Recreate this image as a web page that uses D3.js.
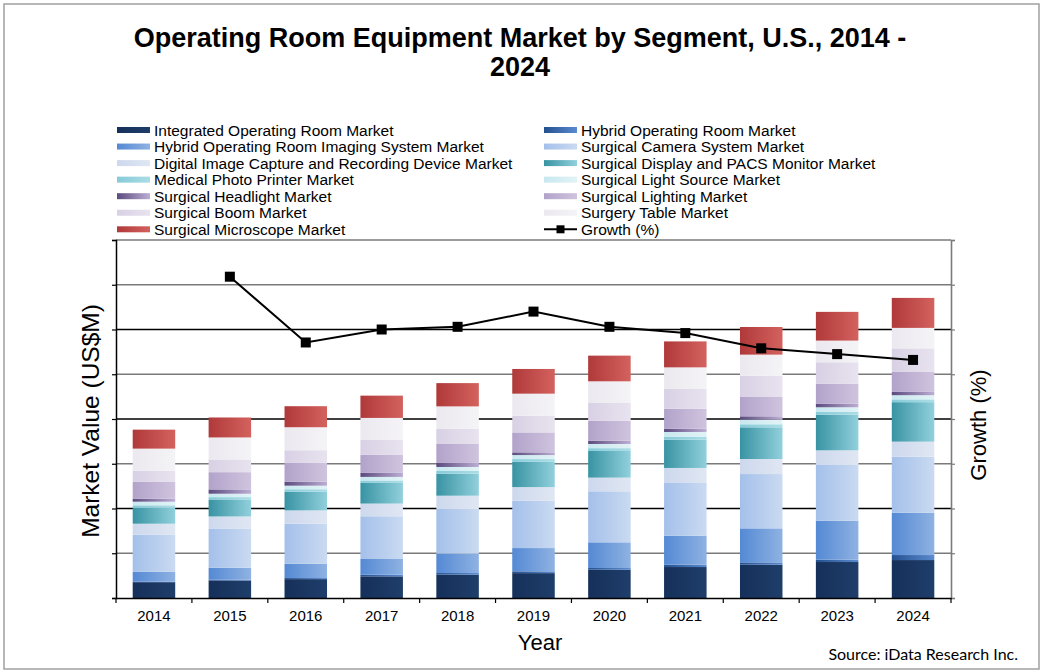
<!DOCTYPE html>
<html>
<head>
<meta charset="utf-8">
<script src="https://cdn.jsdelivr.net/npm/d3@7"></script>
<style>
  html, body { margin: 0; padding: 0; background: #fff; }
  svg { display: block; }
  text { font-family: "Liberation Sans", Arial, sans-serif; fill: #000; }
</style>
</head>
<body>
<svg id="chart" width="1043" height="672"></svg>
<script>
// ---------- DATA ----------
const years = ["2014","2015","2016","2017","2018","2019","2020","2021","2022","2023","2024"];

const seriesNames = [
  "Integrated Operating Room Market",
  "Hybrid Operating Room Market",
  "Hybrid Operating Room Imaging System Market",
  "Surgical Camera System Market",
  "Digital Image Capture and Recording Device Market",
  "Surgical Display and PACS Monitor Market",
  "Medical Photo Printer Market",
  "Surgical Light Source Market",
  "Surgical Headlight Market",
  "Surgical Lighting Market",
  "Surgical Boom Market",
  "Surgery Table Market",
  "Surgical Microscope Market"
];

// US$M (estimated)
const integratedOR   = [177, 196, 211, 242, 261, 278, 316, 346, 372, 402, 424];
const hybridOR       = [5, 8, 12, 19, 18, 20, 19, 26, 26, 26, 56];
const hybridImaging  = [112, 134, 160, 175, 216, 260, 287, 324, 380, 436, 473];
const cameraSystem   = [413, 439, 447, 477, 499, 528, 570, 589, 607, 622, 626];
const digitalCapture = [123, 134, 149, 142, 149, 153, 153, 168, 168, 164, 168];
const displayPACS    = [179, 190, 209, 231, 246, 283, 298, 316, 354, 399, 441];
const photoPrinter   = [27, 26, 27, 27, 30, 30, 31, 34, 34, 33, 31];
const lightSource    = [40, 38, 40, 40, 45, 45, 47, 52, 52, 49, 47];
const headlight      = [34, 48, 45, 45, 45, 30, 37, 37, 37, 41, 37];
const lighting       = [187, 193, 209, 204, 212, 223, 223, 223, 216, 220, 223];
const boom           = [126, 142, 142, 168, 171, 187, 198, 220, 238, 242, 263];
const table          = [246, 246, 257, 242, 249, 246, 242, 242, 235, 242, 229];
const microscope     = [212, 223, 235, 249, 260, 276, 287, 290, 309, 321, 335];

const growthYears = ["2015","2016","2017","2018","2019","2020","2021","2022","2023","2024"];
const growth      = [7.18, 5.71, 6.00, 6.06, 6.40, 6.06, 5.92, 5.58, 5.45, 5.32];

const seriesValues = [integratedOR, hybridOR, hybridImaging, cameraSystem, digitalCapture,
  displayPACS, photoPrinter, lightSource, headlight, lighting, boom, table, microscope];

// gradient colour pairs (left -> right)
const seriesColors = [
  ["#15305a", "#1f3e6a"],
  ["#24508e", "#5a8ad0"],
  ["#5489d4", "#8fb2e2"],
  ["#a4c0ea", "#cadaf1"],
  ["#cdd8ed", "#e0e7f3"],
  ["#3893a3", "#92d0dc"],
  ["#86cbd8", "#aadde6"],
  ["#c8e8ef", "#e2f3f6"],
  ["#5b4a7e", "#bcaed4"],
  ["#b2a2ca", "#cfc4de"],
  ["#d8d0e4", "#e8e3ef"],
  ["#ebe9ef", "#f4f3f6"],
  ["#b0393a", "#d3625e"]
];

// ---------- LAYOUT ----------
const svg = d3.select("#chart");
const X0 = 116, X1 = 951, Y0 = 240, Y1 = 598;

// outer border
svg.append("rect").attr("x", 4).attr("y", 4).attr("width", 1035).attr("height", 665)
  .attr("fill", "none").attr("stroke", "#a0a0a0").attr("stroke-width", 1.5);

// title
svg.append("text").attr("x", 520).attr("y", 47).attr("text-anchor", "middle")
  .style("font-size", "27px").style("font-weight", "bold")
  .text("Operating Room Equipment Market by Segment, U.S., 2014 -");
svg.append("text").attr("x", 520).attr("y", 76).attr("text-anchor", "middle")
  .style("font-size", "27px").style("font-weight", "bold")
  .text("2024");

// gradients
const defs = svg.append("defs");
seriesColors.forEach((c, i) => {
  const g = defs.append("linearGradient").attr("id", "g" + i)
    .attr("x1", "0").attr("x2", "1").attr("y1", "0").attr("y2", "0");
  g.append("stop").attr("offset", "0%").attr("stop-color", c[0]);
  g.append("stop").attr("offset", "100%").attr("stop-color", c[1]);
});

// scales
const x = d3.scaleBand().domain(years).range([X0, X1]).paddingInner(0.44).paddingOuter(0.22);
const y = d3.scaleLinear().domain([0, 4000]).range([Y1, Y0]);
const yR = d3.scaleLinear().domain([0, 8]).range([Y1, Y0]);

// gridlines
const gridTicks = d3.range(500, 4000, 500);
svg.append("g").selectAll("line").data(gridTicks).join("line")
  .attr("x1", X0).attr("x2", X1)
  .attr("y1", d => y(d)).attr("y2", d => y(d))
  .attr("stroke", (d, i) => i % 2 === 0 ? "#7a7a7a" : "#000")
  .attr("stroke-width", 1.3);
// top border
svg.append("line").attr("x1", X0).attr("x2", X1).attr("y1", y(4000)).attr("y2", y(4000))
  .attr("stroke", "#7a7a7a").attr("stroke-width", 1.5);

// stacked data
const table2 = years.map((yr, i) => {
  const o = { year: yr };
  seriesNames.forEach((n, k) => o[n] = seriesValues[k][i]);
  return o;
});
const stacked = d3.stack().keys(seriesNames)(table2);

svg.append("g").selectAll("g").data(stacked).join("g")
  .attr("fill", (d, i) => `url(#g${i})`)
  .selectAll("rect").data(d => d).join("rect")
  .attr("x", d => x(d.data.year))
  .attr("width", x.bandwidth())
  .attr("y", d => y(d[1]))
  .attr("height", d => y(d[0]) - y(d[1]));

// left axis
const leftAxis = d3.axisLeft(y).tickValues(d3.range(0, 4001, 500)).tickSize(4).tickFormat("");
const la = svg.append("g").attr("transform", `translate(${X0},0)`).call(leftAxis);
la.select(".domain").attr("stroke", "#000").attr("stroke-width", 1.5);
la.selectAll(".tick line").attr("stroke", "#000").attr("stroke-width", 1.2);

// right axis
const rightAxis = d3.axisRight(yR).tickValues(d3.range(0, 8.01, 1)).tickSize(4).tickFormat("");
const ra = svg.append("g").attr("transform", `translate(${X1},0)`).call(rightAxis);
ra.select(".domain").attr("stroke", "#7a7a7a").attr("stroke-width", 1.6);
ra.selectAll(".tick line").attr("stroke", "#7a7a7a").attr("stroke-width", 1.2);

// bottom axis
const bottomAxis = d3.axisBottom(x).tickSize(0).tickPadding(12);
const ba = svg.append("g").attr("transform", `translate(0,${Y1})`).call(bottomAxis);
ba.select(".domain").attr("stroke", "#000").attr("stroke-width", 1.5);
ba.selectAll("text").style("font-size", "15px").style("font-family", "Liberation Sans, Arial, sans-serif").attr("fill", "#000");
// boundary ticks
const boundaries = d3.range(0, years.length + 1).map(i => X0 + i * x.step());
svg.append("g").selectAll("line").data(boundaries).join("line")
  .attr("x1", d => d).attr("x2", d => d).attr("y1", Y1).attr("y2", Y1 + 5)
  .attr("stroke", "#000").attr("stroke-width", 1.2);

// growth line
const cx = d => x(d) + x.bandwidth() / 2;
const lineGen = d3.line().x((d, i) => cx(growthYears[i])).y(d => yR(d));
svg.append("path").datum(growth).attr("d", lineGen)
  .attr("fill", "none").attr("stroke", "#000").attr("stroke-width", 2);
svg.append("g").selectAll("rect").data(growth).join("rect")
  .attr("x", (d, i) => cx(growthYears[i]) - 5)
  .attr("y", d => yR(d) - 5)
  .attr("width", 10).attr("height", 10).attr("fill", "#000");

// axis titles
svg.append("text").attr("transform", `translate(99,${(Y0 + Y1) / 2 + 2}) rotate(-90)`)
  .attr("text-anchor", "middle").style("font-size", "24.5px").text("Market Value (US$M)");
svg.append("text").attr("transform", `translate(986,${(Y0 + Y1) / 2 + 6}) rotate(-90)`)
  .attr("text-anchor", "middle").style("font-size", "22px").text("Growth (%)");
svg.append("text").attr("x", 540).attr("y", 650).attr("text-anchor", "middle")
  .style("font-size", "22px").text("Year");

// source
svg.append("text").attr("x", 1018).attr("y", 660).attr("text-anchor", "end")
  .style("font-size", "16px").style("font-family", "Lato, 'Open Sans', sans-serif").text("Source: iData Research Inc.");

// legend
const legendItems = seriesNames.map((n, i) => ({ name: n, idx: i })).concat([{ name: "Growth (%)", idx: -1 }]);
const leg = svg.append("g");
const rowH = 16.55, legY0 = 130;
legendItems.forEach((it, k) => {
  const col = k % 2, row = Math.floor(k / 2);
  const sx = col === 0 ? 117 : 544;
  const cy = legY0 + row * rowH;
  const g = leg.append("g");
  if (it.idx >= 0) {
    g.append("rect").attr("x", sx).attr("y", cy - 3).attr("width", 33).attr("height", 6)
      .attr("fill", `url(#g${it.idx})`);
  } else {
    g.append("line").attr("x1", sx).attr("x2", sx + 33).attr("y1", cy).attr("y2", cy)
      .attr("stroke", "#000").attr("stroke-width", 2);
    g.append("rect").attr("x", sx + 12.5).attr("y", cy - 4).attr("width", 8).attr("height", 8).attr("fill", "#000");
  }
  g.append("text").attr("x", sx + 37).attr("y", cy + 5.5).style("font-size", "15.5px").text(it.name);
});
</script>
</body>
</html>
